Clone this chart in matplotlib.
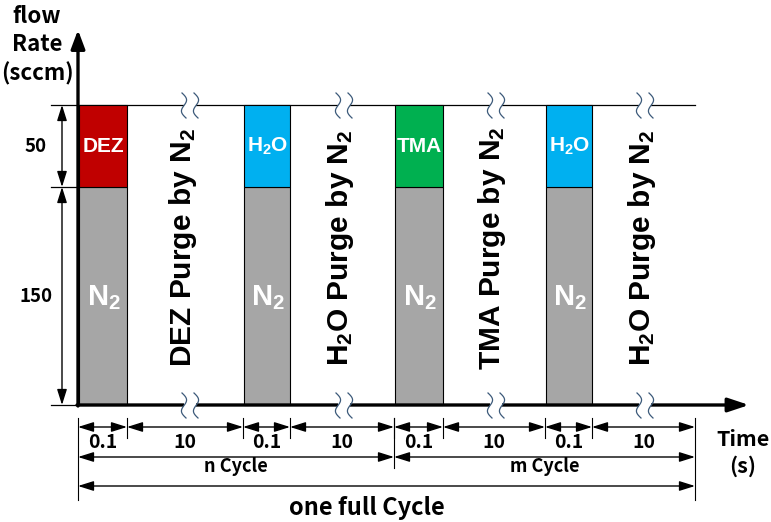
import numpy as np
import matplotlib
matplotlib.use('Agg')
from matplotlib import pyplot as plt
from matplotlib import rcParams
from matplotlib.patches import Rectangle

rcParams['mathtext.fontset'] = 'custom'
rcParams['mathtext.default'] = 'regular'

#%% data
gases = ['DEZ', 'H$_2$O', 'TMA', 'H$_2$O']
gas_colors = ['#C00000', '#00B0F0', '#00B050', '#00B0F0']
carrier = 'N$_2$'
purges = ['DEZ Purge by N$_2$', 'H$_2$O Purge by N$_2$',
          'TMA Purge by N$_2$', 'H$_2$O Purge by N$_2$']
flow_labels = ['150', '50']          # carrier, precursor (sccm)
step_times = ['0.1', '10', '0.1', '10', '0.1', '10', '0.1', '10']
cycle_names = ['n Cycle', 'm Cycle']
full_name = 'one full Cycle'

#%% schematic layout (pixel units, diagram not to scale)
xb = [78, 127, 243, 290, 394, 443, 545, 592, 695]   # step boundaries
y_base, y_mid, y_top = 405, 187, 105
breaks_x = [190, 344, 496, 645]

lab_font = dict(family=['Noto Sans CJK KR', 'DejaVu Sans'], weight='bold')
arial = dict(family='Liberation Sans', weight='bold')

fig = plt.figure(figsize=(7.71, 5.22), dpi=100)
ax = fig.add_axes([0, 0, 1, 1])
ax.set_xlim(0, 771)
ax.set_ylim(522, 0)
ax.axis('off')


def dim_arrow(p0, p1, **kw):
    ax.annotate('', xy=p1, xytext=p0,
                arrowprops=dict(arrowstyle='<|-|>,head_length=0.7,head_width=0.22',
                                color='k', lw=1.0, shrinkA=0, shrinkB=0,
                                mutation_scale=13.5))


# top line
ax.plot([xb[0], xb[-1]], [y_top, y_top], color='k', lw=0.9, zorder=1)

# bars
for i, (g, c) in enumerate(zip(gases, gas_colors)):
    x0, x1 = xb[2 * i], xb[2 * i + 1]
    ax.add_patch(Rectangle((x0 + 1, y_mid), x1 - x0 - 1, y_base - y_mid,
                           facecolor='#A6A6A6', edgecolor='k', lw=0.8, zorder=2))
    ax.add_patch(Rectangle((x0 + 1, y_top), x1 - x0 - 1, y_mid - y_top,
                           facecolor=c, edgecolor='k', lw=0.8, zorder=2))
    xc = (x0 + x1) / 2
    ax.text(xc + 1, (y_top + y_mid) / 2, g, color='w', fontsize=15, ha='center',
            va='center', zorder=3, **arial)
    ax.text(xc + 1, (y_mid + y_base) / 2 + 2, carrier, color='w', fontsize=21,
            ha='center', va='center', zorder=3, **arial)
    # purge text
    px = (x1 + xb[2 * i + 2]) / 2
    ax.text(px - 2, 248, purges[i], rotation=90, color='k', fontsize=21.5,
            ha='center', va='center', zorder=3, **arial)

# breaks on top line and x axis
for bx in breaks_x:
    for yc in (y_top, y_base):
        ax.add_patch(Rectangle((bx - 6, yc - 3), 12, 6, facecolor='w',
                               edgecolor='none', zorder=5))
        t = np.linspace(0, 1, 40)
        for dx in (-6, 6):
            xs = bx + dx - 2 + 4 * t + 3.5 * np.sin(2 * np.pi * t)
            ys = yc - 12 + 25 * t
            ax.plot(xs, ys, color='#3C5A7A', lw=0.9, zorder=6)

# main axes
ax.annotate('', xy=(78, 30), xytext=(78, y_base + 1),
            arrowprops=dict(arrowstyle='-|>,head_length=0.8,head_width=0.3',
                            color='k', lw=2.4, shrinkA=0, shrinkB=0,
                            mutation_scale=14), zorder=4)
ax.annotate('', xy=(749, y_base), xytext=(77, y_base),
            arrowprops=dict(arrowstyle='-|>,head_length=0.9,head_width=0.3',
                            color='k', lw=2.4, shrinkA=0, shrinkB=0,
                            mutation_scale=14), zorder=4)

# left flow dimensions
for yy in (y_top, y_mid, y_base):
    ax.plot([51, 77], [yy, yy], color='k', lw=0.9)
dim_arrow((62, y_top), (62, y_mid))
dim_arrow((62, y_mid), (62, y_base))
ax.text(36, (y_top + y_mid) / 2, flow_labels[1], fontsize=13.5, ha='center',
        va='center', **lab_font)
ax.text(36, (y_mid + y_base) / 2, flow_labels[0], fontsize=13.5, ha='center',
        va='center', **lab_font)

# axis titles
ax.text(37, 45, 'flow\nRate\n(sccm)', fontsize=16, ha='center', va='center',
        linespacing=1.3, **lab_font)
ax.text(743, 453, 'Time\n(s)', fontsize=15.5, ha='center', va='center',
        linespacing=1.3, **lab_font)

# time dimensions
y1, y2, y3 = 427, 457, 486
for x in xb[1:-1]:
    ax.plot([x, x], [418, 438], color='k', lw=0.8)
ax.plot([xb[0], xb[0]], [418, 500], color='k', lw=0.8)
ax.plot([xb[-1], xb[-1]], [418, 500], color='k', lw=0.8)
ax.plot([xb[4], xb[4]], [418, 468], color='k', lw=0.8)
for i, lab in enumerate(step_times):
    dim_arrow((xb[i], y1), (xb[i + 1], y1))
    ax.text((xb[i] + xb[i + 1]) / 2, y1 + 15, lab, fontsize=14, ha='center',
            va='center', **lab_font)
for i, lab in enumerate(cycle_names):
    x0, x1 = xb[4 * i], xb[4 * i + 4]
    dim_arrow((x0, y2), (x1, y2))
    ax.text((x0 + x1) / 2, y2 + 10, lab, fontsize=13, ha='center',
            va='center', **lab_font)
dim_arrow((xb[0], y3), (xb[-1], y3))
ax.text(367, 508, full_name, fontsize=17, ha='center', va='center',
        **lab_font)

fig.savefig('out.png', dpi=100)
